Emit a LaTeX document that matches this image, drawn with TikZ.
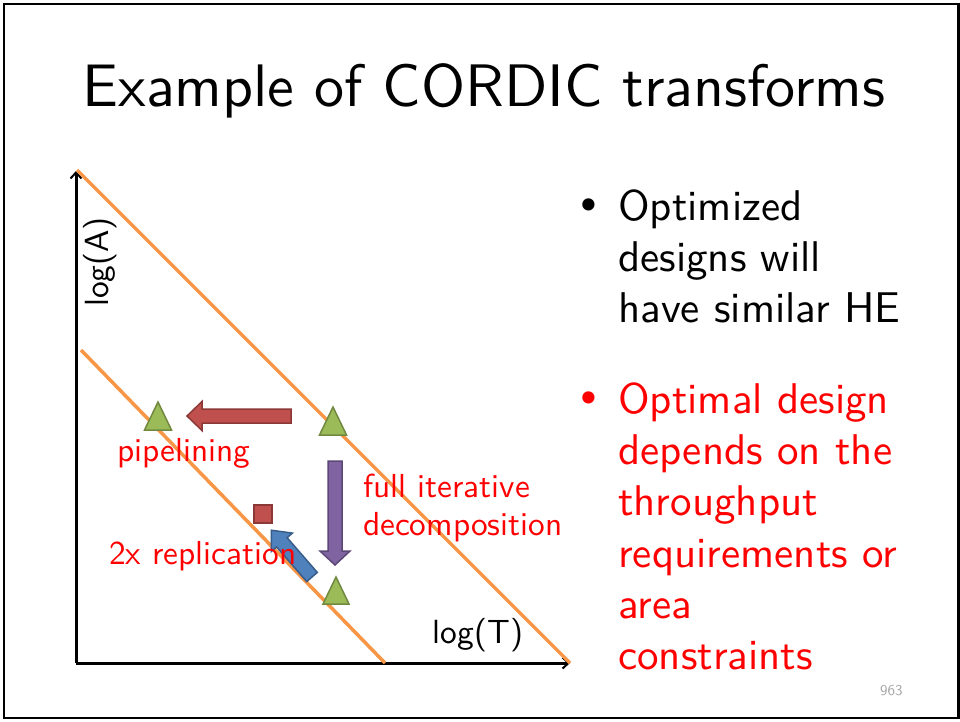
\documentclass[tikz,border=0pt]{standalone}
\usepackage{fontspec}
\setsansfont{lmsans10-regular.otf}
\newfontfamily\bulletfont{DejaVu Sans}
\usetikzlibrary{arrows.meta}
\definecolor{orangeln}{HTML}{F79646}
\definecolor{trifill}{HTML}{9BBB59}
\definecolor{tridraw}{HTML}{71893F}
\definecolor{redfill}{HTML}{C0504D}
\definecolor{reddraw}{HTML}{8C3836}
\definecolor{purfill}{HTML}{8064A2}
\definecolor{purdraw}{HTML}{5C4776}
\definecolor{blufill}{HTML}{4F81BD}
\definecolor{bludraw}{HTML}{385D8A}
\definecolor{pagegray}{HTML}{A6A6A6}
\tikzset{
  titletext/.style={font=\sffamily\fontsize{60}{72}\selectfont, inner sep=0pt, anchor=base},
  bodytext/.style={font=\sffamily\fontsize{43}{52}\selectfont, inner sep=0pt, anchor=base west},
  bullettext/.style={font=\bulletfont\fontsize{42}{48}\selectfont, inner sep=0pt, anchor=center},
  labeltext/.style={font=\sffamily\fontsize{33.3}{38}\selectfont, inner sep=0pt, text=red},
  axistext/.style={font=\sffamily\fontsize{33.5}{38}\selectfont, inner sep=0pt},
  axisline/.style={line width=3pt, -{Straight Barb[length=6pt,width=11pt,line width=2pt]}},
  diagline/.style={orangeln, line width=3.5pt},
  tri/.style={fill=trifill, draw=tridraw, line width=1.5pt, line join=miter},
  blk/.style={line width=1.5pt, line join=miter},
}
\begin{document}
\begin{tikzpicture}[x=1pt,y=-1pt]
\useasboundingbox (0,0) rectangle (960,721);
\fill[white] (0,0) rectangle (960,721);
\draw[line width=2.5pt] (4,4) rectangle (958.5,718);

% title
\node[titletext] (title) at (484,106) {Example of CORDIC transforms};

% axes
\coordinate (origin) at (76,663);
\coordinate (ytop) at (76,171);
\coordinate (xend) at (570,663);
\draw[axisline] (origin) -- (ytop);
\draw[axisline] (origin) -- (xend);
\node[axistext, rotate=90] (ylab) at (100,262) {log(A)};
\node[axistext, anchor=base] (xlab) at (478,643) {log(T)};

% orange lines
\coordinate (l1a) at (77,170);
\coordinate (l1b) at (570,663);
\coordinate (l2a) at (81,350);
\coordinate (l2b) at (385,663);
\draw[diagline] (l1a) -- (l1b);
\draw[diagline] (l2a) -- (l2b);

% triangles
\draw[tri] (158,402) -- (171.5,430) -- (144.5,430) -- cycle;
\draw[tri] (333,407) -- (346.5,435) -- (319.5,435) -- cycle;
\draw[tri] (336,577) -- (349,604) -- (323,604) -- cycle;

% red square
\draw[blk, fill=redfill, draw=reddraw] (254,505) rectangle (272,523);

% red arrow (left)
\begin{scope}[shift={(291,416)}, rotate=180]
\draw[blk, fill=redfill, draw=reddraw] (0,-7) -- (89,-7) -- (89,-14.5) -- (104,0) -- (89,14.5) -- (89,7) -- (0,7) -- cycle;
\end{scope}
% purple arrow (down)
\begin{scope}[shift={(335,461)}, rotate=-90]
\draw[blk, fill=purfill, draw=purdraw] (0,-7) -- (90,-7) -- (90,-15) -- (104,0) -- (90,15) -- (90,7) -- (0,7) -- cycle;
\end{scope}
% blue arrow (up-left)
\begin{scope}[shift={(312,577)}, rotate=131]
\draw[blk, fill=blufill, draw=bludraw] (0,-7) -- (46,-7) -- (46,-14) -- (62,0) -- (46,14) -- (46,7) -- (0,7) -- cycle;
\end{scope}

% labels
\node[labeltext, anchor=base] (pipe) at (184,461) {pipelining};
\node[labeltext, anchor=base west] (repl) at (109,564) {2x replication};
\node[labeltext, anchor=base west] (full1) at (363,497) {full iterative};
\node[labeltext, anchor=base west] (full2) at (363,535) {decomposition};

% bullets
\node[bullettext] (b1) at (589,210) {•};
\node[bodytext] (t1a) at (618,220) {Optimized};
\node[bodytext] (t1b) at (618,271) {designs will};
\node[bodytext] (t1c) at (618,322) {have similar HE};
\node[bullettext, text=red] (b2) at (589,403) {•};
\node[bodytext, text=red] (t2a) at (618,413) {Optimal design};
\node[bodytext, text=red] (t2b) at (618,464) {depends on the};
\node[bodytext, text=red] (t2c) at (618,515) {throughput};
\node[bodytext, text=red] (t2d) at (618,567) {requirements or};
\node[bodytext, text=red] (t2e) at (618,618) {area};
\node[bodytext, text=red] (t2f) at (618,669) {constraints};

% page number
\node[font=\sffamily\fontsize{15}{18}\selectfont, text=pagegray, inner sep=0pt, anchor=base west] (pg) at (880,695) {963};
\end{tikzpicture}
\end{document}
